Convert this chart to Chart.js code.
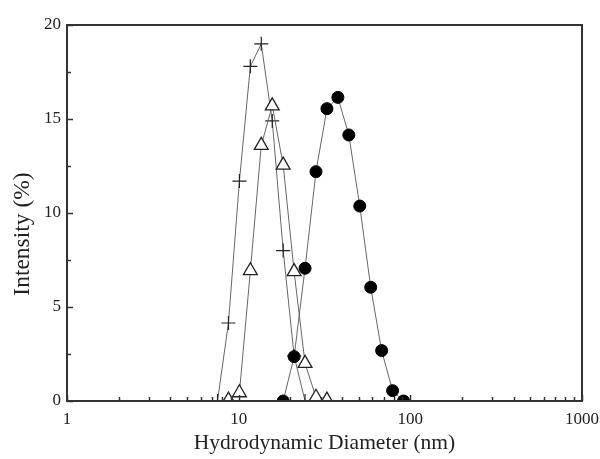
<!DOCTYPE html>
<html lang="en">
<head>
  <meta charset="UTF-8">
  <title>Hydrodynamic Diameter</title>
  <style>
    html, body { margin: 0; padding: 0; background: #fff; }
    #wrap { position: relative; width: 600px; height: 459px; }
  </style>
</head>
<body>
  <div id="wrap">
    <canvas id="chart" role="img" aria-label="Intensity distribution against hydrodynamic diameter for three samples"></canvas>
  </div>

  <script src="https://cdn.jsdelivr.net/npm/chart.js@4.4.1/dist/chart.umd.min.js"></script>
  <script>
    // size bins (nm)
    const sizes = [7.531, 8.721, 10.1, 11.7, 13.54, 15.69, 18.17, 21.04, 24.36,
                   28.21, 32.67, 37.84, 43.82, 50.75, 58.77, 68.06, 78.82, 91.28];
    // intensity (%) per bin, null = not plotted
    const plusVals   = [0, 4.15, 11.7, 17.8, 19.0, 14.9, 8.0, 2.4, 0,
                        null, null, null, null, null, null, null, null, null];
    const triVals    = [null, 0.05, 0.44, 6.93, 13.6, 15.7, 12.55, 6.88, 2.0,
                        0.2, 0.05, null, null, null, null, null, null, null];
    const circleVals = [null, null, null, null, null, null, 0, 2.36, 7.06,
                        12.2, 15.55, 16.15, 14.15, 10.37, 6.05, 2.68, 0.55, 0];

    const xMajor = [1, 10, 100, 1000];
    const yTicks = [0, 5, 10, 15, 20];

    const toPoints = vals => sizes
      .map((x, i) => ({ x, y: vals[i] }))
      .filter(p => p.y !== null);

    const FONT = "'Liberation Serif', 'Times New Roman', serif";
    const INK = '#222';

    // inward tick marks, box frame and y title (sits a bit below centre in the original)
    const frame = {
      id: 'frame',
      afterDraw(chart) {
        const { ctx, chartArea: a, scales: { x, y } } = chart;
        ctx.save();
        ctx.strokeStyle = '#333';
        ctx.lineWidth = 1.5;
        ctx.beginPath();
        xMajor.forEach(d => {
          for (let k = 1; k < 10; k++) {
            const v = d * k;
            if (v > 1000) break;
            const px = Math.round(x.getPixelForValue(v)) + 0.5;
            const len = k === 1 ? 6 : 4;
            ctx.moveTo(px, a.bottom);
            ctx.lineTo(px, a.bottom - len);
          }
        });
        yTicks.forEach((v, i) => {
          const py = Math.round(y.getPixelForValue(v)) + 0.5;
          ctx.moveTo(a.left, py);
          ctx.lineTo(a.left + 6, py);
          if (i < yTicks.length - 1) {
            const pm = Math.round(y.getPixelForValue(v + 2.5)) + 0.5;
            ctx.moveTo(a.left, pm);
            ctx.lineTo(a.left + 4, pm);
          }
        });
        ctx.stroke();
        ctx.lineWidth = 2;
        ctx.strokeRect(a.left, a.top, a.right - a.left, a.bottom - a.top);

        ctx.translate(23, (a.top + a.bottom) / 2 + 21);
        ctx.rotate(-Math.PI / 2);
        ctx.fillStyle = INK;
        ctx.font = '23.5px ' + FONT;
        ctx.textAlign = 'center';
        ctx.textBaseline = 'middle';
        ctx.fillText('Intensity (%)', 0, 0);
        ctx.restore();
      }
    };

    new Chart(document.getElementById('chart'), {
      type: 'line',
      data: {
        datasets: [
          {
            label: 'C',
            data: toPoints(circleVals),
            borderColor: '#666',
            borderWidth: 1,
            pointStyle: 'circle',
            pointRadius: 6,
            pointBackgroundColor: '#000',
            pointBorderColor: '#000',
            pointBorderWidth: 1,
            clip: 0
          },
          {
            label: 'B',
            data: toPoints(triVals),
            borderColor: '#666',
            borderWidth: 1,
            pointStyle: 'triangle',
            pointRadius: 8,
            pointBackgroundColor: '#fff',
            pointBorderColor: '#222',
            pointBorderWidth: 1.3,
            clip: 0
          },
          {
            label: 'A',
            data: toPoints(plusVals),
            borderColor: '#666',
            borderWidth: 1,
            pointStyle: 'cross',
            pointRadius: 7,
            pointBorderColor: '#222',
            pointBorderWidth: 1.2,
            clip: 0
          }
        ]
      },
      options: {
        responsive: true,
        maintainAspectRatio: false,
        animation: false,
        layout: { padding: { top: 25, right: 18, left: 0, bottom: 0 } },
        plugins: { legend: { display: false }, tooltip: { enabled: false } },
        elements: { line: { tension: 0 } },
        scales: {
          x: {
            type: 'logarithmic',
            min: 1,
            max: 1000,
            afterBuildTicks: s => { s.ticks = xMajor.map(v => ({ value: v })); },
            afterFit: s => { s.height = 58; s.paddingLeft = 0; s.paddingRight = 0; },
            grid: { display: false, drawTicks: false },
            border: { display: false },
            ticks: {
              autoSkip: false,
              maxRotation: 0,
              padding: 8,
              color: INK,
              font: { family: FONT, size: 17 },
              callback: v => String(v)
            },
            title: {
              display: true,
              text: 'Hydrodynamic Diameter (nm)',
              color: INK,
              font: { family: FONT, size: 21.5 },
              padding: { top: 0, bottom: 3 }
            }
          },
          y: {
            min: 0,
            max: 20,
            afterBuildTicks: s => { s.ticks = yTicks.map(v => ({ value: v })); },
            afterFit: s => { s.width = 67; s.paddingTop = 0; s.paddingBottom = 0; },
            grid: { display: false, drawTicks: false },
            border: { display: false },
            ticks: {
              padding: 6,
              color: INK,
              font: { family: FONT, size: 17 }
            }
          }
        }
      },
      plugins: [frame]
    });
  </script>
</body>
</html>
